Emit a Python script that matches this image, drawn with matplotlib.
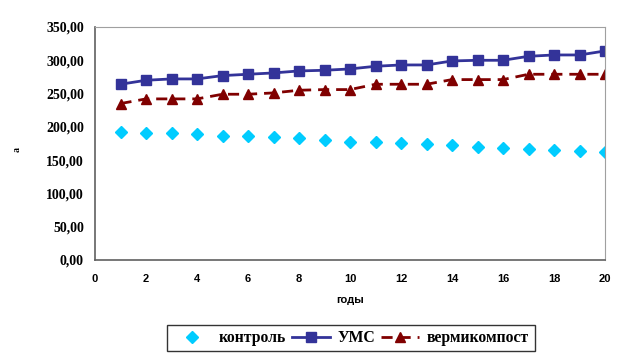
import matplotlib
matplotlib.use("Agg")
import matplotlib.pyplot as plt
from matplotlib.ticker import FuncFormatter

years = list(range(1, 21))
kontrol = [192, 191, 190.5, 189, 187, 186, 185, 183.5, 180, 178, 177, 175.5, 173.5, 172, 170, 168.5, 166.5, 165.5, 163.5, 162]
ums = [264, 270, 272, 272, 277, 279, 281, 284, 285, 287, 291, 293, 293, 299, 300, 300, 306, 308, 308, 314]
vermi = [235, 242, 242, 242, 249, 249, 251, 255, 256, 256, 264, 264, 264, 271, 271, 271, 279, 279, 279, 279]
labels = ["контроль", "УМС", "вермикомпост"]

fig = plt.figure(figsize=(6.29, 3.61), dpi=100)
ax = fig.add_axes([95/629, 1-260/361, 510/629, 233/361])

ax.plot(years, kontrol, linestyle="none", marker="D", markersize=5.8, color="#00CCFF", label=labels[0])
ax.plot(years, ums, linestyle="-", linewidth=2, marker="s", markersize=6.5, color="#333399", label=labels[1])
ax.plot(years, vermi, linestyle=(0, (4, 2.5)), linewidth=2, marker="^", markersize=7, color="#800000", label=labels[2])

ax.set_xlim(0, 20)
ax.set_ylim(0, 350)
ax.set_xticks(range(0, 21, 2))
ax.set_yticks(range(0, 351, 50))
ax.yaxis.set_major_formatter(FuncFormatter(lambda v, p: f"{v:.2f}".replace(".", ",")))
ax.tick_params(length=0, pad=8)
for t in ax.get_yticklabels():
    t.set_fontfamily("Liberation Serif")
    t.set_fontweight("bold")
    t.set_fontsize(10)
for t in ax.get_xticklabels():
    t.set_fontfamily("Liberation Sans")
    t.set_fontweight("bold")
    t.set_fontsize(8)
ax.tick_params(axis="x", pad=10)

for s in ["top", "right"]:
    ax.spines[s].set_color("#A0A0A0")
for s in ["left", "bottom"]:
    ax.spines[s].set_color("#606060")
    ax.spines[s].set_linewidth(1.2)

ax.set_xlabel("годы", fontfamily="Liberation Sans", fontweight="bold", fontsize=8, labelpad=8)
fig.text(17/629, 1-150/361, "а", rotation=90, fontfamily="Liberation Serif", fontweight="bold", fontsize=7, ha="center", va="center")

leg = fig.legend(loc="center", bbox_to_anchor=(351/629, 1-338/361), ncol=3, frameon=True,
                 fancybox=False, edgecolor="black", handlelength=2.4, columnspacing=0.4,
                 handletextpad=0.5, borderpad=0.35,
                 prop={"family": "Liberation Serif", "weight": "bold", "size": 11.3})
leg.get_frame().set_linewidth(1.0)

fig.savefig("out.png", dpi=100)
